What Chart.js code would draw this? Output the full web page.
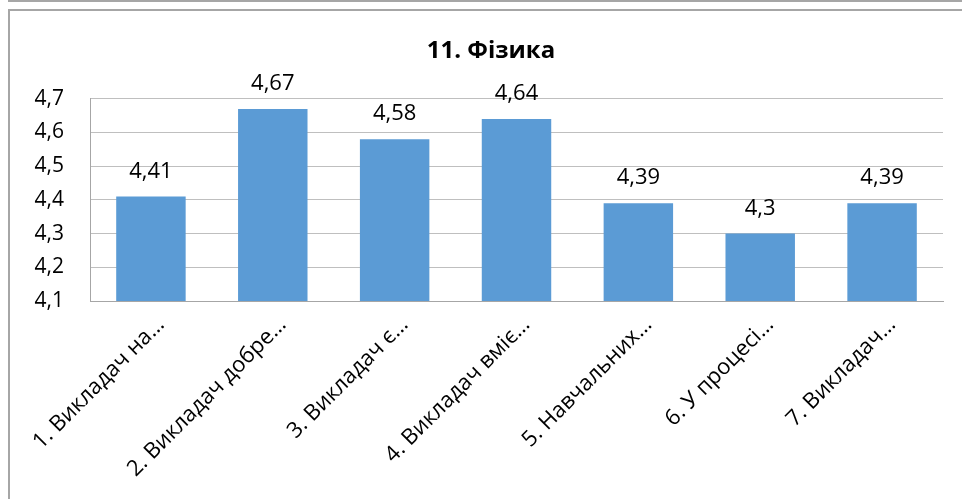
<!DOCTYPE html>
<html>
<head>
<meta charset="utf-8">
<script src="https://cdn.jsdelivr.net/npm/chart.js@4"></script>
<style>
  html, body { margin: 0; padding: 0; background: #fff; overflow: hidden; }
  #wrap { position: relative; width: 962px; height: 499px; }
  #topline { position: absolute; left: 8px; top: 0; width: 954px; height: 2px; background: #a6a6a6; }
  #frame { position: absolute; left: 8px; top: 9px; width: 1000px; height: 1000px;
           border-left: 2px solid #a6a6a6; border-top: 2px solid #a6a6a6; }
  canvas { position: absolute; left: 0; top: 0; }
</style>
</head>
<body>
<div id="wrap">
  <div id="topline"></div>
  <div id="frame"></div>
  <canvas id="c" width="962" height="499"></canvas>
</div>
<script>
const title = "11. Фізика";
const categories = [
  "1. Викладач на…",
  "2. Викладач добре…",
  "3. Викладач є…",
  "4. Викладач вміє…",
  "5. Навчальних…",
  "6. У процесі…",
  "7. Викладач…"
];
const values = [4.41, 4.67, 4.58, 4.64, 4.39, 4.3, 4.39];
const yTicks = [4.1, 4.2, 4.3, 4.4, 4.5, 4.6, 4.7];

const fmt = v => String(v).replace('.', ',');

const valueLabels = {
  id: 'valueLabels',
  afterDatasetsDraw(chart) {
    const ctx = chart.ctx;
    const meta = chart.getDatasetMeta(0);
    ctx.save();
    ctx.font = '22px "Open Sans", sans-serif';
    ctx.fillStyle = '#000';
    ctx.textAlign = 'center';
    ctx.textBaseline = 'alphabetic';
    meta.data.forEach((bar, i) => {
      ctx.fillText(fmt(values[i]), bar.x, bar.y - 19);
    });
    ctx.restore();
  }
};

new Chart(document.getElementById('c'), {
  type: 'bar',
  data: {
    labels: categories,
    datasets: [{
      data: values,
      backgroundColor: '#5b9bd5',
      borderWidth: 0,
      barPercentage: 0.57,
      categoryPercentage: 1
    }]
  },
  options: {
    responsive: false,
    animation: false,
    devicePixelRatio: 1,
    layout: { padding: { left: 20, right: 0, top: 0, bottom: 0 } },
    plugins: {
      legend: { display: false },
      tooltip: { enabled: false },
      title: {
        display: true,
        text: title,
        color: '#000',
        font: { family: '"Open Sans", sans-serif', size: 24, weight: 'bold', lineHeight: 1.2 },
        padding: { top: 37, bottom: 33 }
      }
    },
    scales: {
      y: {
        min: 4.1,
        max: 4.7,
        afterBuildTicks(scale) { scale.ticks = yTicks.map(v => ({ value: v })); },
        afterFit(scale) { scale.width = 70; },
        ticks: {
          color: '#000',
          padding: 26,
          font: { family: '"Open Sans", sans-serif', size: 21 },
          callback: v => fmt(Math.round(v * 10) / 10)
        },
        grid: { color: '#bfbfbf', lineWidth: 1, drawTicks: false },
        border: { display: true, color: '#a6a6a6', width: 1 }
      },
      yRight: {
        position: 'right',
        display: true,
        min: 4.1,
        max: 4.7,
        afterFit(scale) { scale.width = 19; },
        ticks: { display: false },
        grid: { display: false, drawTicks: false },
        border: { display: false }
      },
      x: {
        afterFit(scale) { scale.height = 198; },
        ticks: {
          color: '#000',
          maxRotation: 45,
          minRotation: 45,
          autoSkip: false,
          padding: 11,
          labelOffset: 10,
          font: { family: '"Open Sans", sans-serif', size: 22 }
        },
        grid: { display: false, drawTicks: false },
        border: { display: true, color: '#a6a6a6', width: 1 }
      }
    }
  },
  plugins: [valueLabels]
});
</script>
</body>
</html>
